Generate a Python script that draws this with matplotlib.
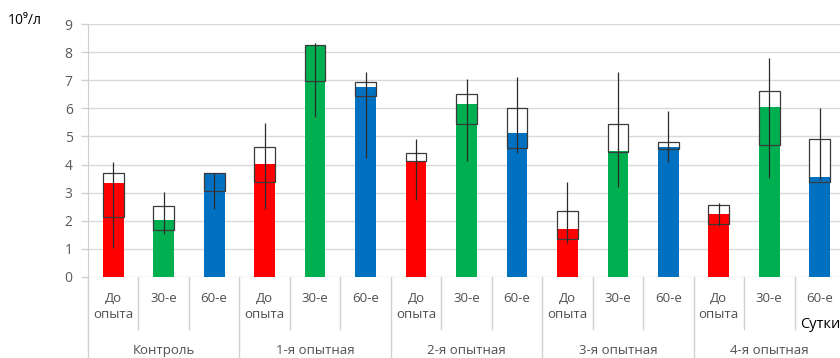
import numpy as np
import matplotlib
matplotlib.use("Agg")
import matplotlib.pyplot as plt
import matplotlib.transforms as mtransforms

plt.rcParams['font.family'] = ['Open Sans', 'DejaVu Sans']

# данные
subcats = ["До\nопыта", "30-е", "60-е"]
groups = ["Контроль", "1-я опытная", "2-я опытная", "3-я опытная", "4-я опытная"]
means = [3.33, 2.03, 3.69, 4.02, 8.26, 6.75, 4.13, 6.15, 5.14, 1.70, 4.48, 4.61, 2.24, 6.03, 3.57]
box_hi = [3.69, 2.53, 3.69, 4.64, 8.26, 6.93, 4.40, 6.51, 6.00, 2.35, 5.43, 4.82, 2.56, 6.63, 4.91]
box_lo = [2.15, 1.67, 3.07, 3.39, 6.99, 6.44, 4.13, 5.43, 4.58, 1.34, 4.46, 4.54, 1.89, 4.70, 3.39]
wh_hi = [4.10, 3.01, 3.69, 5.49, 8.32, 7.31, 4.90, 7.03, 7.13, 3.39, 7.31, 5.91, 2.62, 7.78, 6.00]
wh_lo = [1.02, 1.53, 2.41, 2.41, 5.70, 4.22, 2.74, 4.13, 4.42, 1.20, 3.21, 4.10, 1.81, 3.51, 3.45]
colors = ["#FF0000", "#00B050", "#0070C0"]

n = len(means)
x = np.arange(n)
bar_colors = [colors[i % 3] for i in range(n)]
box_lo = np.array(box_lo)
box_hi = np.array(box_hi)

fig = plt.figure(figsize=(8.4, 3.58), dpi=100)
ax = fig.add_axes([88 / 840, 81 / 358, 757 / 840, 253 / 358])

w = 0.41
ax.bar(x, box_hi - box_lo, bottom=box_lo, width=w, color="white", zorder=2)
ax.bar(x, means, width=w, color=bar_colors, zorder=3)
ax.bar(x, box_hi - box_lo, bottom=box_lo, width=w, fill=False,
       edgecolor="#3a3a3a", linewidth=0.9, zorder=4)
ax.vlines(x, wh_lo, wh_hi, color="#2a2a2a", linewidth=0.9, zorder=5)

ax.set_xlim(-0.5, n - 0.5)
ax.set_ylim(0, 9)
ax.set_yticks(range(10))
ax.yaxis.grid(True, color="#D9D9D9", linewidth=1)
ax.set_axisbelow(True)
ax.set_xticks([])
for s in ["top", "right", "bottom"]:
    ax.spines[s].set_visible(False)
ax.spines["left"].set_color("#D0D0D0")
ax.tick_params(axis="y", colors="#595959", labelsize=10, length=5, width=1,
               color="#D0D0D0", pad=6)

# подписи категорий
trans = mtransforms.blended_transform_factory(ax.transData, ax.transAxes)
px = 1 / 253  # один пиксель в долях оси
for i in range(n):
    ax.text(x[i], -15 * px, subcats[i % 3], transform=trans, ha="center", va="top",
            fontsize=9.5, color="#505050", linespacing=1.3)
for i in range(1, n):
    lw_end = -81 * px if i % 3 == 0 else -52 * px
    ax.plot([i - 0.5, i - 0.5], [0, lw_end], transform=trans, color="#D0D0D0",
            linewidth=1, clip_on=False)
ax.plot([-0.5, -0.5], [0, -81 * px], transform=trans, color="#D0D0D0",
        linewidth=1, clip_on=False)
for g, name in enumerate(groups):
    ax.text(3 * g + 1, -67 * px, name, transform=trans, ha="center", va="top",
            fontsize=9.5, color="#505050")

fig.text(8 / 840, 1 - 20 / 358, "10⁹/л", ha="left", va="center", fontsize=10, color="black")
fig.text(800 / 840, 1 - 325 / 358, "Сутки", ha="left", va="center", fontsize=10.5, color="black")

fig.savefig("out.png", dpi=100)
